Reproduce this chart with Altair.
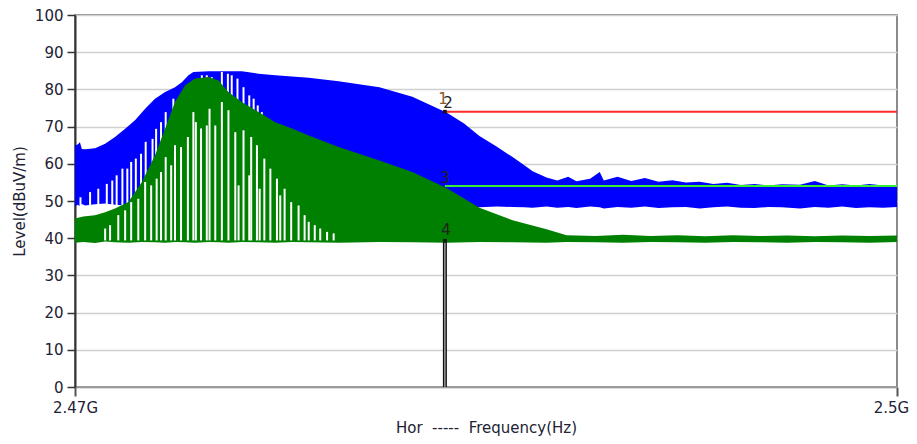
import altair as alt
import pandas as pd

# ---------------- data (frequency in MHz, level in dBuV/m) ----------------
blue_freq = [2470.00, 2470.10, 2470.18, 2470.25, 2470.37, 2470.73, 2471.10, 2471.46,
             2471.83, 2472.19, 2472.56, 2472.92, 2473.29, 2473.65, 2473.90, 2474.14,
             2474.32, 2474.87, 2476.09, 2476.70, 2477.31, 2478.53, 2479.62, 2481.11,
             2482.31, 2483.56, 2484.20, 2484.76, 2485.40, 2485.97, 2486.40, 2486.70,
             2487.21, 2487.60, 2488.00, 2488.30, 2488.80, 2489.15, 2489.30, 2489.80,
             2490.30, 2490.80, 2491.30, 2491.80, 2492.30, 2492.80, 2493.30, 2493.80,
             2494.30, 2494.80, 2495.30, 2495.80, 2496.46, 2497.00, 2497.50, 2498.00,
             2498.50, 2499.00, 2499.50, 2500.00]
blue_top = [65.0, 65.2, 65.8, 64.0, 63.9, 64.2, 65.4, 67.2,
            69.4, 71.7, 74.8, 77.5, 79.3, 80.6, 81.9, 83.8,
            84.7, 84.9, 84.9, 84.2, 83.8, 83.1, 82.2, 80.6,
            78.0, 73.8, 70.8, 67.5, 64.6, 61.8, 59.6, 58.0,
            56.3, 55.5, 56.5, 55.3, 56.0, 57.8, 55.5, 56.5,
            55.4, 56.2, 55.2, 55.6, 55.0, 55.2, 54.6, 54.9,
            54.3, 54.6, 54.2, 54.5, 54.4, 55.4, 54.2, 54.5,
            54.2, 54.6, 54.2, 54.3]
blue_low = [48.5, 49.0, 48.6, 49.2, 48.8, 49.1, 49.3, 49.0,
            48.8, 48.6, 48.5, 48.5, 48.5, 48.5, 48.5, 48.5,
            48.5, 48.5, 48.5, 48.5, 48.5, 48.5, 48.5, 48.5,
            48.5, 48.4, 48.4, 48.3, 48.5, 48.4, 48.3, 48.2,
            48.5, 48.2, 48.4, 48.1, 48.5, 48.3, 48.0, 48.4,
            48.2, 48.5, 48.1, 48.3, 48.4, 48.0, 48.3, 48.5,
            48.2, 48.1, 48.4, 48.3, 48.0, 48.4, 48.2, 48.5,
            48.1, 48.3, 48.2, 48.4]

green_freq = [2470.00, 2470.30, 2470.73, 2471.10, 2471.46, 2471.95, 2472.44, 2472.92,
              2473.29, 2473.65, 2474.02, 2474.38, 2474.87, 2475.24, 2475.60, 2476.09,
              2476.70, 2477.31, 2477.92, 2478.53, 2479.62, 2481.11, 2482.31, 2483.56,
              2484.76, 2485.97, 2487.21, 2487.94, 2489.00, 2490.00, 2491.00, 2492.00,
              2493.00, 2494.00, 2495.00, 2496.00, 2497.00, 2498.00, 2499.00, 2500.00]
green_top = [45.3, 45.8, 46.2, 47.0, 48.0, 49.7, 55.1, 62.3,
             69.5, 76.6, 81.1, 82.9, 83.3, 82.4, 79.3, 76.6,
             73.9, 71.2, 69.5, 67.6, 64.5, 60.9, 57.8, 53.5,
             48.2, 44.8, 42.4, 40.8, 40.6, 40.9, 40.6, 40.8,
             40.5, 40.8, 40.6, 40.7, 40.5, 40.7, 40.6, 40.7]
green_low = [38.8, 39.0, 38.7, 39.1, 38.9, 38.8, 39.0, 38.9,
             38.8, 39.0, 38.9, 38.8, 39.0, 38.9, 38.8, 39.0,
             38.9, 38.8, 39.0, 38.9, 38.8, 39.0, 38.9, 38.8,
             39.0, 38.9, 38.8, 39.0, 38.9, 38.8, 39.0, 38.9,
             38.8, 39.0, 38.9, 38.8, 39.0, 38.9, 38.8, 39.0]

# white gaps (hopping-channel notches) cut into the traces
blue_notch_freq = [2470.20, 2470.55, 2470.85, 2471.16, 2471.36, 2471.52, 2471.73, 2471.91,
                   2472.05, 2472.22, 2472.41, 2472.58, 2472.83, 2472.96, 2473.14, 2473.31,
                   2473.59, 2474.63, 2474.81, 2474.99, 2475.36, 2475.58, 2475.72, 2475.93,
                   2476.15, 2476.36, 2476.52, 2476.67, 2476.82]
blue_notch_top = [51.0, 52.4, 53.3, 54.6, 55.5, 56.9, 58.7, 58.7,
                  60.5, 61.4, 62.7, 65.9, 66.7, 69.4, 71.2, 73.9,
                  77.5, 83.8, 83.8, 83.3, 84.7, 84.2, 83.8, 82.9,
                  80.6, 78.4, 77.5, 75.7, 73.9]
BLUE_NOTCH_BASE = 45.0

green_notch_freq = [2471.10, 2471.28, 2471.58, 2471.83, 2472.05, 2472.31, 2472.56, 2472.78,
                    2472.98, 2473.14, 2473.31, 2473.51, 2473.65, 2473.87, 2474.12, 2474.32,
                    2474.41, 2474.60, 2474.81, 2474.91, 2475.12, 2475.36, 2475.60, 2475.85,
                    2475.97, 2476.15, 2476.36, 2476.43, 2476.64, 2476.74, 2476.91, 2477.13,
                    2477.37, 2477.49, 2477.65, 2477.89, 2478.16, 2478.38, 2478.53, 2478.75,
                    2478.95, 2479.20, 2479.44]
green_notch_top = [42.6, 43.5, 46.2, 47.5, 49.7, 50.6, 55.1, 54.2,
                   56.0, 57.8, 61.8, 59.6, 65.0, 64.5, 67.2, 73.9,
                   71.2, 69.5, 70.3, 74.8, 70.3, 76.6, 74.4, 68.5,
                   54.2, 69.0, 56.9, 67.2, 65.0, 53.3, 61.4, 58.7,
                   56.0, 51.5, 53.3, 49.7, 48.8, 46.2, 44.4, 43.5,
                   42.6, 41.7, 41.3]
GREEN_NOTCH_BASE = 39.4

# limit lines and markers
limit_start = 2483.5
limit_end = 2500.0
peak_limit = 74
avg_limit = 54
marker_freq = 2483.5
marker_line_top = 39
marker_labels = ["1", "2", "3", "4"]
marker_levels = [77.3, 76.4, 56.2, 42.3]
marker_dx = [-2, 3, 0, 1]
marker_colors = ["#8a5a2a", "#222222", "#222222", "#222222"]
marker_points = [74, 39.3]

x_tick_values = [2470, 2500]
x_tick_labels = ["2.47G", "2.5G"]
y_tick_values = [0, 10, 20, 30, 40, 50, 60, 70, 80, 90, 100]

# ---------------- chart ----------------
FONT = "DejaVu Sans"
TXT = "#222233"

label_expr = "'" + x_tick_labels[-1] + "'"
for v, l in reversed(list(zip(x_tick_values[:-1], x_tick_labels[:-1]))):
    label_expr = f"datum.value == {v} ? '{l}' : " + label_expr

xscale = alt.Scale(domain=[x_tick_values[0], x_tick_values[-1]], nice=False, zero=False)
yscale = alt.Scale(domain=[0, 100], nice=False, zero=True)

x_axis = alt.Axis(values=x_tick_values, labelExpr=label_expr, grid=False,
                  tickSize=9, labelPadding=4, labelFlush=False,
                  labelOffset={"condition": {"test": f"datum.value == {x_tick_values[-1]}", "value": -6},
                               "value": 0},
                  title="Hor\u00a0\u00a0-----\u00a0\u00a0Frequency(Hz)", titlePadding=5,
                  domainColor="#999999", domainWidth=1.5, tickColor="#555555", tickWidth=2)
y_axis = alt.Axis(values=y_tick_values, grid=True, gridColor="#d0d0d0", gridWidth=1.5,
                  tickSize=8, labelPadding=4, title="Level(dBuV/m)", titlePadding=7,
                  domainColor="#333333", domainWidth=2, tickColor="#333333", tickWidth=1.5)

X = alt.X("f:Q", scale=xscale, axis=x_axis)
Y = alt.Y("v:Q", scale=yscale, axis=y_axis)

df_blue = pd.DataFrame({"f": blue_freq, "v": blue_top, "v2": blue_low})
df_green = pd.DataFrame({"f": green_freq, "v": green_top, "v2": green_low})
df_bn = pd.DataFrame({"f": blue_notch_freq, "v": blue_notch_top,
                      "v2": [BLUE_NOTCH_BASE] * len(blue_notch_freq)})
df_gn = pd.DataFrame({"f": green_notch_freq, "v": green_notch_top,
                      "v2": [GREEN_NOTCH_BASE] * len(green_notch_freq)})
df_lim = pd.DataFrame({"f": [limit_start, limit_start], "f2": [limit_end, limit_end],
                       "v": [peak_limit, avg_limit], "c": ["#ff2a2a", "#33ee33"]})
df_mline = pd.DataFrame({"f": [marker_freq], "v": [0], "v2": [marker_line_top]})
df_mpts = pd.DataFrame({"f": [marker_freq] * len(marker_points), "v": marker_points})

blue_area = alt.Chart(df_blue).mark_area(color="#0000ff", opacity=1).encode(x=X, y=Y, y2="v2:Q")
blue_notch = alt.Chart(df_bn).mark_rule(color="white", strokeWidth=2).encode(x=X, y=Y, y2="v2:Q")
green_area = alt.Chart(df_green).mark_area(color="#008000", opacity=1).encode(x=X, y=Y, y2="v2:Q")
green_notch = alt.Chart(df_gn).mark_rule(color="white", strokeWidth=2).encode(x=X, y=Y, y2="v2:Q")
limits = alt.Chart(df_lim).mark_rule(strokeWidth=2).encode(
    x=X, x2="f2:Q", y=Y, color=alt.Color("c:N", scale=None))
mline_outer = alt.Chart(df_mline).mark_rule(color="#111111", strokeWidth=4).encode(x=X, y=Y, y2="v2:Q")
mline_inner = alt.Chart(df_mline).mark_rule(color="#bbbbbb", strokeWidth=1.2).encode(x=X, y=Y, y2="v2:Q")
mpts = alt.Chart(df_mpts).mark_point(shape="square", filled=True, color="#111111", size=14, opacity=1).encode(x=X, y=Y)

texts = []
for lab, lev, dx, col in zip(marker_labels, marker_levels, marker_dx, marker_colors):
    dft = pd.DataFrame({"f": [marker_freq], "v": [lev], "t": [lab]})
    texts.append(alt.Chart(dft).mark_text(font=FONT, fontSize=15, color=col, dx=dx,
                                          baseline="middle", align="center").encode(x=X, y=Y, text="t:N"))

chart = alt.layer(blue_area, blue_notch, green_area, green_notch, limits,
                  mline_outer, mline_inner, mpts, *texts).properties(
    width=822, height=372,
    padding={"left": 67, "top": 7, "right": 12, "bottom": 49},
    autosize=alt.AutoSizeParams(type="none"),
    background="white",
).configure_view(stroke="#666666", strokeWidth=1.5).configure_axis(
    labelFont=FONT, labelFontSize=15, labelColor=TXT,
    titleFont=FONT, titleFontSize=15, titleFontWeight="normal", titleColor=TXT,
)

chart.save("out.html", embed_options={"renderer": "svg", "actions": False})
